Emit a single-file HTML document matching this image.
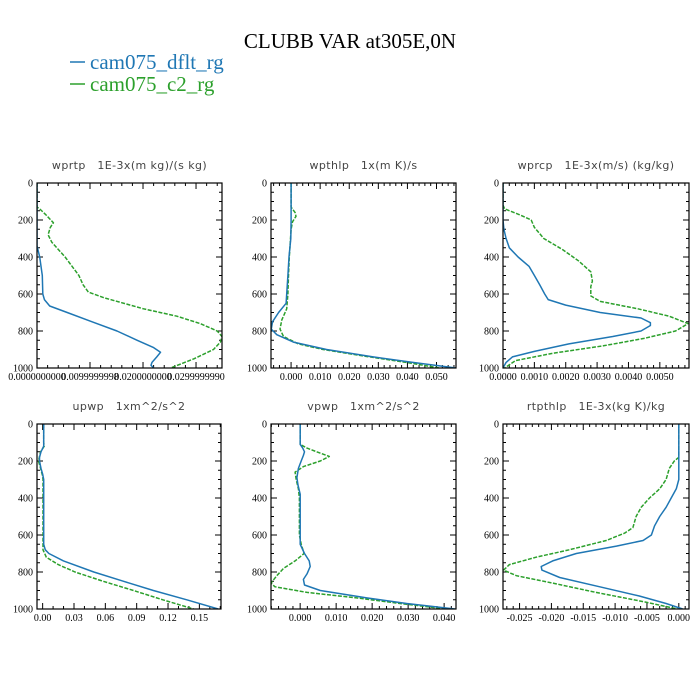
<!DOCTYPE html>
<html><head><meta charset="utf-8">
<style>
body{margin:0;background:#fff;}
svg{display:block;}
.tick{font-family:"Liberation Serif",serif;font-size:10px;fill:#000;}
.ptitle{font-family:"DejaVu Sans","Liberation Sans",sans-serif;font-size:11px;fill:#444;letter-spacing:0.4px;white-space:pre;}
</style></head>
<body>
<svg id="chart" width="700" height="700" viewBox="0 0 700 700">
<text x="350" y="48" text-anchor="middle" font-family="Liberation Serif,serif" font-size="21">CLUBB VAR at305E,0N</text>
<g>
<line x1="70" y1="62" x2="85" y2="62" stroke="#1f77b4" stroke-width="1.5"/>
<text x="90" y="69" font-family="Liberation Serif,serif" font-size="21" fill="#1f77b4">cam075_dflt_rg</text>
<line x1="70" y1="84" x2="85" y2="84" stroke="#2ca02c" stroke-width="1.5"/>
<text x="90" y="91" font-family="Liberation Serif,serif" font-size="21" fill="#2ca02c">cam075_c2_rg</text>
</g>
</svg>
<script>
// pressure levels / values for each panel
const p1B=[0,340,400,500,600,630,665,700,750,800,850,890,915,940,970,985,1000];
const v1B=[0,0,0.0005,0.001,0.0011,0.0014,0.0024,0.0057,0.0104,0.0151,0.0189,0.022,0.0233,0.0226,0.0217,0.0215,0.022];
const p1G=[0,130,140,170,200,215,240,280,320,400,500,550,590,620,680,720,760,800,830,860,900,950,1000];
const v1G=[0,0,0.0005,0.0016,0.0026,0.0031,0.0025,0.0021,0.0028,0.0053,0.0079,0.0087,0.0097,0.0126,0.0201,0.0264,0.0308,0.034,0.0349,0.0346,0.0333,0.0296,0.0252];
const p2B=[0,150,200,300,400,500,600,650,700,750,790,820,860,900,940,970,1000];
const v2B=[0,0,0,-0.0001,-0.0007,-0.0011,-0.0015,-0.0017,-0.0043,-0.0064,-0.0068,-0.0049,0.0008,0.0122,0.0282,0.0418,0.0567];
const p2G=[0,130,160,180,210,250,400,500,600,680,740,790,830,870,900,940,970,1000];
const v2G=[0,0,0.0014,0.0017,0.0005,0,-0.0006,-0.0009,-0.0011,-0.0015,-0.0032,-0.0038,-0.0026,0.0025,0.011,0.027,0.0396,0.051];
const p3B=[0,200,250,300,350,400,450,500,550,600,630,660,700,730,755,770,800,830,870,910,940,970,1000];
const v3B=[0,0,0.00003,0.0001,0.0002,0.00048,0.00083,0.001,0.00117,0.00133,0.00144,0.002,0.0031,0.0044,0.0047,0.0047,0.0044,0.0035,0.0021,0.001,0.0003,0.0001,0];
const p3G=[0,120,140,170,200,240,300,360,420,480,530,560,580,610,640,680,720,760,800,840,880,920,960,1000];
const v3G=[0,0,0.00005,0.0005,0.0009,0.001,0.0013,0.0019,0.0024,0.0028,0.00285,0.0028,0.0028,0.0028,0.0031,0.0043,0.0053,0.0059,0.0055,0.0045,0.0032,0.0016,0.0004,0.00005];
const p4B=[0,120,150,180,200,240,270,300,650,680,700,740,800,850,900,950,1000];
const v4B=[0.001,0.001,-0.0016,-0.003,-0.003,-0.0016,0,0.001,0.001,0.0025,0.006,0.02,0.049,0.0775,0.106,0.138,0.168];
const p4G=[0,100,120,150,200,240,280,300,650,680,720,760,800,850,900,950,1000];
const v4G=[0.001,0.001,0.0015,-0.002,-0.004,-0.002,0,0.0003,0.0003,0.0003,0.0035,0.015,0.031,0.058,0.087,0.115,0.1445];
const p5B=[0,110,130,150,170,200,240,290,330,380,450,650,700,740,770,810,840,870,900,940,970,1000];
const v5B=[0,0,0.0007,0.0012,0.0009,0.0003,-0.0005,-0.0009,-0.0006,0,0,0,0.0012,0.0025,0.0028,0.0019,0.0009,0.0012,0.0056,0.0185,0.0296,0.043];
const p5G=[0,110,130,150,175,200,230,260,300,350,400,600,650,700,740,780,820,860,880,910,940,970,1000];
const v5G=[0,0,0.0019,0.0046,0.0081,0.0056,0.0009,-0.0014,-0.0011,-0.0005,-0.0002,-0.0002,0.0003,0.0011,-0.0014,-0.0046,-0.0065,-0.0081,-0.007,0.0019,0.0157,0.0278,0.0407];
const p6B=[0,300,350,400,450,500,550,600,630,660,700,740,770,790,830,880,930,970,1000];
const v6B=[0,0,-0.0004,-0.0012,-0.002,-0.003,-0.0038,-0.0043,-0.0056,-0.0098,-0.0161,-0.0198,-0.0216,-0.0215,-0.0187,-0.0124,-0.0062,-0.002,0.0006];
const p6G=[0,180,200,240,300,350,400,450,500,560,590,630,680,720,760,790,820,860,910,960,1000];
const v6G=[0,0,-0.0007,-0.0015,-0.002,-0.003,-0.0046,-0.0059,-0.0067,-0.0072,-0.0085,-0.0114,-0.0172,-0.0224,-0.0266,-0.0275,-0.0255,-0.0198,-0.013,-0.0056,-0.0002];
const yTicks=[0,200,400,600,800,1000];
const x1Ticks=[0,0.01,0.02,0.03];
const x1Labels=["0.0000000000","0.0099999998","0.0200000000","0.0299999990"];
const x2Ticks=[0,0.01,0.02,0.03,0.04,0.05];
const x2Labels=["0.000","0.010","0.020","0.030","0.040","0.050"];
const x3Ticks=[0,0.001,0.002,0.003,0.004,0.005];
const x3Labels=["0.0000","0.0010","0.0020","0.0030","0.0040","0.0050"];
const x4Ticks=[0,0.03,0.06,0.09,0.12,0.15];
const x4Labels=["0.00","0.03","0.06","0.09","0.12","0.15"];
const x5Ticks=[0,0.01,0.02,0.03,0.04];
const x5Labels=["0.000","0.010","0.020","0.030","0.040"];
const x6Ticks=[-0.025,-0.02,-0.015,-0.01,-0.005,0];
const x6Labels=["-0.025","-0.020","-0.015","-0.010","-0.005","0.000"];

const NS="http://www.w3.org/2000/svg";
const svg=document.getElementById('chart');
function mk(tag,attrs,parent){const e=document.createElementNS(NS,tag);for(const k in attrs)e.setAttribute(k,attrs[k]);parent.appendChild(e);return e;}

const panels=[
 {t:"wprtp   1E-3x(m kg)/(s kg)",L:37,R:222,T:183,B:368,xmin:0,xmax:0.0349,ticks:x1Ticks,labels:x1Labels,minor:5,b:[p1B,v1B],g:[p1G,v1G],n:"wprtp"},
 {t:"wpthlp   1x(m K)/s",L:271,R:456,T:183,B:368,xmin:-0.0069,xmax:0.0567,ticks:x2Ticks,labels:x2Labels,minor:5,b:[p2B,v2B],g:[p2G,v2G],n:"wpthlp"},
 {t:"wprcp   1E-3x(m/s) (kg/kg)",L:503,R:689,T:183,B:368,xmin:0,xmax:0.00593,ticks:x3Ticks,labels:x3Labels,minor:5,b:[p3B,v3B],g:[p3G,v3G],n:"wprcp"},
 {t:"upwp   1xm^2/s^2",L:37,R:221,T:424,B:609,xmin:-0.0054,xmax:0.1707,ticks:x4Ticks,labels:x4Labels,minor:3,b:[p4B,v4B],g:[p4G,v4G],n:"upwp"},
 {t:"vpwp   1xm^2/s^2",L:271,R:456,T:424,B:609,xmin:-0.0081,xmax:0.0433,ticks:x5Ticks,labels:x5Labels,minor:5,b:[p5B,v5B],g:[p5G,v5G],n:"vpwp"},
 {t:"rtpthlp   1E-3x(kg K)/kg",L:503,R:689,T:424,B:609,xmin:-0.0276,xmax:0.0016,ticks:x6Ticks,labels:x6Labels,minor:5,b:[p6B,v6B],g:[p6G,v6G],n:"rtpthlp"}
];

panels.forEach(P=>{
 const g=mk('g',{},svg);
 
 
 const xs=v=>P.L+(v-P.xmin)/(P.xmax-P.xmin)*(P.R-P.L);
 const ys=p=>P.T+p/1000*(P.B-P.T);
 const tt=mk('text',{x:(P.L+P.R)/2,y:P.T-14,'text-anchor':'middle','class':'ptitle'},g);
 tt.textContent=P.t.replace(/ /g,'\u00a0');
 
 
 const cp='clip-'+P.n;
 const cl=mk('clipPath',{id:cp},g); mk('rect',{x:P.L,y:P.T,width:P.R-P.L,height:P.B-P.T},cl);
 for(let p=0;p<=1000;p+=50){
  const y=ys(p), maj=p%200===0, len=maj?6:3;
  mk('line',{x1:P.L,y1:y,x2:P.L+len,y2:y,stroke:'#000','stroke-width':1},g);
  mk('line',{x1:P.R,y1:y,x2:P.R-len,y2:y,stroke:'#000','stroke-width':1},g);
 }
 yTicks.forEach(p=>{
  const t=mk('text',{x:P.L-4,y:ys(p)+3.5,'text-anchor':'end','class':'tick'},g);
  t.textContent=p;
  
  
 });
 const step=P.ticks[1]-P.ticks[0];
 const ms=step/P.minor;
 const start=Math.ceil((P.xmin-1e-12)/ms);
 for(let k=start;k*ms<=P.xmax+1e-12;k++){
  const v=k*ms, x=xs(v);
  const maj=Math.abs(((v-P.ticks[0])/step)-Math.round((v-P.ticks[0])/step))<1e-6;
  const len=maj?6:3;
  mk('line',{x1:x,y1:P.B,x2:x,y2:P.B-len,stroke:'#000','stroke-width':1},g);
  mk('line',{x1:x,y1:P.T,x2:x,y2:P.T+len,stroke:'#000','stroke-width':1},g);
 }
 P.ticks.forEach((v,i)=>{
  const t=mk('text',{x:xs(v),y:P.B+12,'text-anchor':'middle','class':'tick'},g);
  t.textContent=P.labels[i];
  
  
 });
 const line=(arr,col,dash,name)=>{
  const d=arr[0].map((p,i)=>(i?'L':'M')+xs(arr[1][i]).toFixed(1)+','+ys(p).toFixed(1)).join('');
  const pa=mk('path',{d:d,fill:'none',stroke:col,'stroke-width':1.5,'stroke-linejoin':'round','clip-path':'url(#'+cp+')'},g);
  if(dash)pa.setAttribute('stroke-dasharray',dash);
  
  
 };
 line(P.g,'#2ca02c','4,1.5','series-c2-'+P.n);
 line(P.b,'#1f77b4',null,'series-dflt-'+P.n);
 const fr=mk('rect',{x:P.L,y:P.T,width:P.R-P.L,height:P.B-P.T,fill:'none',stroke:'#000','stroke-width':1.2},g);
 
 
});
</script>
</body></html>
